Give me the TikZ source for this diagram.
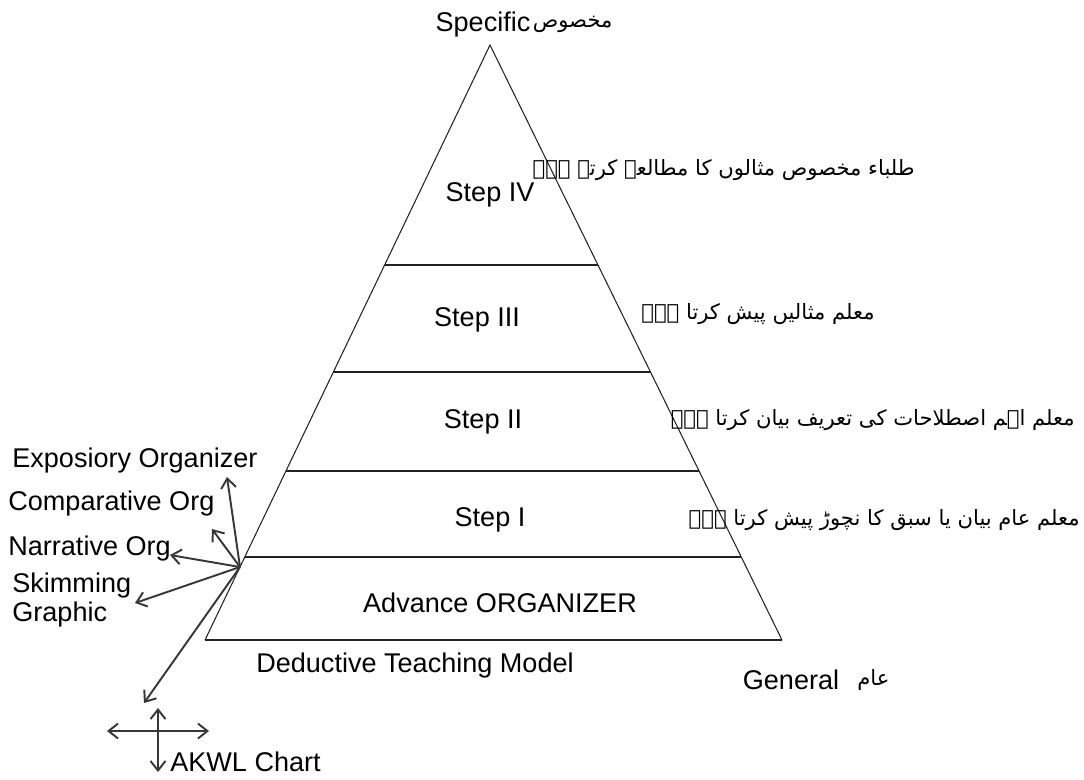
\documentclass[tikz,border=0pt]{standalone}
\usepackage{fontspec}
\setmainfont{Liberation Sans}
\newfontfamily\urdufont[Script=Arabic]{DejaVu Sans}
\TeXXeTstate=1
\usetikzlibrary{arrows.meta,positioning}
\definecolor{pyline}{RGB}{35,35,35}
\definecolor{pyarrow}{RGB}{55,55,55}
\tikzstyle{txt} = [font=\fontsize{15.4}{17}\selectfont, inner sep=0pt]
\tikzstyle{urdu} = [font=\fontsize{12}{17}\selectfont\urdufont, inner sep=0pt, anchor=east]
\tikzstyle{side} = [pyline, line width=0.6pt]
\tikzstyle{level} = [pyline, line width=1.2pt]
\tikzstyle{arrow} = [pyarrow, line width=1.1pt, -{Straight Barb[length=1.9mm,width=3mm]}]
\tikzstyle{darrow} = [pyarrow, line width=1.1pt, {Straight Barb[length=1.9mm,width=3mm]}-{Straight Barb[length=1.9mm,width=3mm]}]

\begin{document}
\begin{tikzpicture}[x=0.02cm, y=-0.02cm]
\useasboundingbox (0,0) rectangle (1084,779);

% Pyramid
\coordinate (apex) at (490,45);
\coordinate (baseL) at (205,640);
\coordinate (baseR) at (782,640);
\draw[side] (baseL) -- (apex) -- (baseR);
\draw[level] (baseL) -- (baseR);
\draw[side] (384.6,265) -- (597.9,265);
\draw[level] (333.4,372) -- (650.5,372);
\draw[level] (285.9,471) -- (699.1,471);
\draw[level] (244.8,557) -- (741.3,557);

% Steps
\node (stepIV) [txt] at (490,195) {Step IV};
\node (stepIII) [txt] at (477,320) {Step III};
\node (stepII) [txt] at (483,422) {Step II};
\node (stepI) [txt] at (490,520) {Step I};
\node (advance) [txt] at (500,603) {Advance ORGANIZER};
\node (model) [txt] at (415,665) {Deductive Teaching Model};

% Ends of the scale
\node (specific) [txt] at (483,24) {Specific};
\node (specificUr) [urdu, anchor=west, xshift=1pt] at (specific.east) {\beginR مخصوص\endR};
\node (general) [txt] at (791,680) {General};
\node (generalUr) [urdu, anchor=west, xshift=10pt] at (general.east) {\beginR عام\endR};

% Notes on the right
\node (noteIV) [urdu] at (915,170) {\beginR طلباء مخصوص مثالوں کا مطالعہ کرتے ہے۔\endR};
\node (noteIII) [urdu] at (875,314) {\beginR معلم مثالیں پیش کرتا ہے۔\endR};
\node (noteII) [urdu] at (1075,420) {\beginR معلم اہم اصطلاحات کی تعریف بیان کرتا ہے۔\endR};
\node (noteI) [urdu] at (1080,520) {\beginR معلم عام بیان یا سبق کا نچوڑ پیش کرتا ہے۔\endR};

% Organizers on the left
\coordinate (hub) at (240,567);
\node (expo) [txt, anchor=west] at (12,460) {Exposiory Organizer};
\node (compar) [txt, anchor=west] at (8,503) {Comparative Org};
\node (narr) [txt, anchor=west] at (8,548) {Narrative Org};
\node (skim) [txt, anchor=west, align=left] at (12,600) {Skimming\\Graphic};
\coordinate (expoTip) at (227,477);
\coordinate (comparTip) at (212,529);
\coordinate (narrTip) at (170,555);
\coordinate (skimTip) at (135,603);
\coordinate (akwlTip) at (144,703);
\draw[arrow] (hub) -- (expoTip);
\draw[arrow] (hub) -- (comparTip);
\draw[arrow] (hub) -- (narrTip);
\draw[arrow] (hub) -- (skimTip);
\draw[arrow] (hub) -- (akwlTip);

% AKWL chart
\coordinate (akwlW) at (107,731);
\coordinate (akwlE) at (209,731);
\coordinate (akwlN) at (158,708);
\coordinate (akwlS) at (158,772);
\draw[darrow] (akwlW) -- (akwlE);
\draw[darrow] (akwlN) -- (akwlS);
\node (akwl) [txt, anchor=west] at (170,762) {AKWL Chart};
\end{tikzpicture}
\end{document}
